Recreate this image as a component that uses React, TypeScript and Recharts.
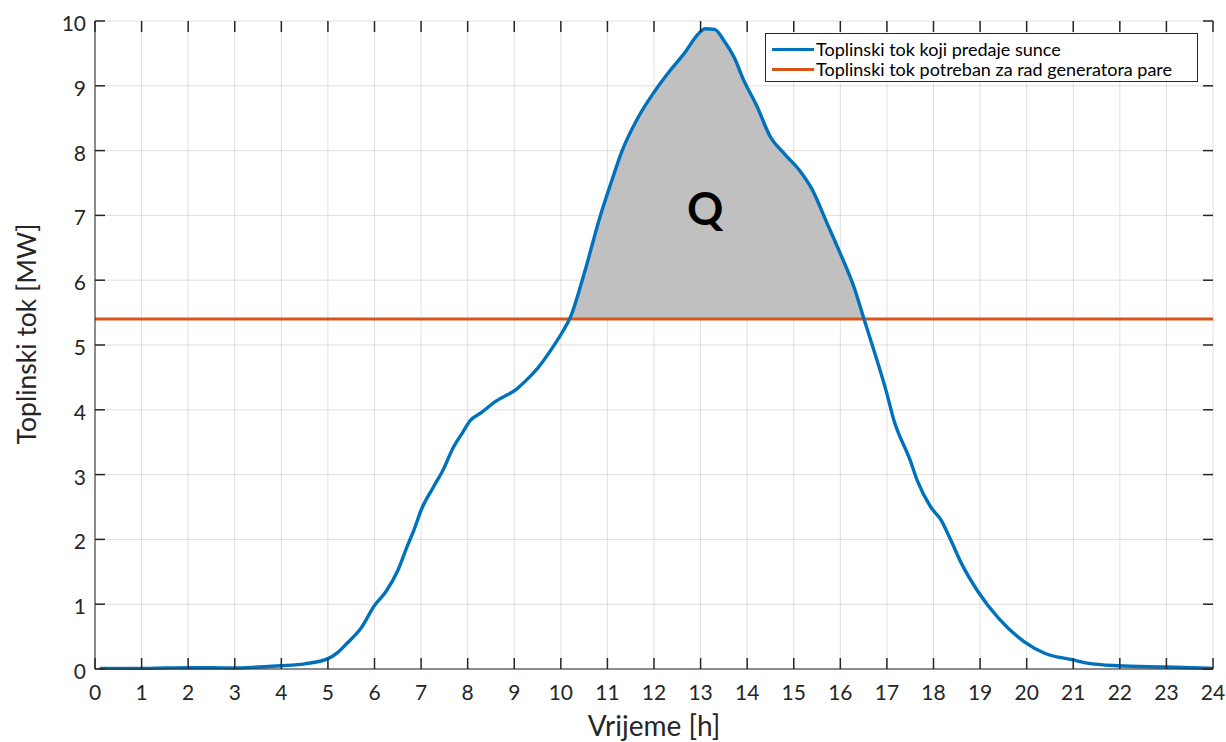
import React from 'react';
import {
  ComposedChart,
  Area,
  Line,
  XAxis,
  YAxis,
  CartesianGrid,
  ReferenceLine,
  ReferenceDot,
  Legend,
  Label,
} from 'recharts';

// hours of the day (x) and heat flow delivered by the sun in MW (y)
const hours = [
  0.1, 0.5, 1, 1.5, 2, 2.5, 3, 3.5, 4, 4.5, 5, 5.2, 5.4, 5.7, 6, 6.25, 6.5, 6.7, 6.85, 7,
  7.25, 7.45, 7.7, 7.9, 8.05, 8.3, 8.6, 9.05, 9.25, 9.5, 9.85, 10.05, 10.2, 10.5, 10.85,
  11.1, 11.3, 11.65, 12, 12.35, 12.65, 12.95, 13.1, 13.3, 13.5, 13.72, 13.93, 14.2, 14.5,
  14.8, 15.15, 15.38, 15.72, 16, 16.3, 16.5, 16.72, 16.98, 17.15, 17.5, 17.65, 17.94,
  18.16, 18.37, 18.6, 18.95, 19.4, 19.95, 20.4, 21, 21.3, 21.95, 23, 24,
];
const solarHeat = [
  0.01, 0.01, 0.01, 0.015, 0.02, 0.02, 0.015, 0.03, 0.05, 0.08, 0.16, 0.25, 0.39, 0.62,
  0.98, 1.2, 1.52, 1.89, 2.15, 2.45, 2.79, 3.04, 3.43, 3.66, 3.83, 3.96, 4.13, 4.32, 4.45,
  4.64, 4.99, 5.22, 5.42, 6.1, 7.0, 7.55, 7.97, 8.5, 8.9, 9.24, 9.5, 9.8, 9.88, 9.87, 9.7,
  9.44, 9.08, 8.7, 8.21, 7.95, 7.67, 7.42, 6.87, 6.41, 5.88, 5.42, 4.92, 4.3, 3.84, 3.22,
  2.91, 2.5, 2.3, 1.99, 1.63, 1.2, 0.78, 0.42, 0.24, 0.14, 0.09, 0.05, 0.03, 0.01,
];
// heat flow needed to run the steam generator (MW)
const requiredHeat = 5.4;

const xTicks = [0, 1, 2, 3, 4, 5, 6, 7, 8, 9, 10, 11, 12, 13, 14, 15, 16, 17, 18, 19, 20, 21, 22, 23, 24];
const yTicks = [0, 1, 2, 3, 4, 5, 6, 7, 8, 9, 10];
const xMin = 0;
const xMax = 24;
const yMin = 0;
const yMax = 10;

const seriesNames = ['Toplinski tok koji predaje sunce', 'Toplinski tok potreban za rad generatora pare'];
const xTitle = 'Vrijeme [h]';
const yTitle = 'Toplinski tok [MW]';
const qText = 'Q';
const qHour = 13.1;
const qValue = 7.1;

// inward tick mark lengths, in axis units (~11px vertical, ~10px horizontal)
const xTickLen = 0.17;
const yTickLen = 0.215;

const BLUE = '#0072BD';
const ORANGE = '#D95319';
const AXIS = '#262626';
const FONT = 'Lato, "Open Sans", sans-serif';

const data = hours.map((h, i) => ({
  h,
  sun: solarHeat[i],
  surplus: solarHeat[i] >= requiredHeat ? [requiredHeat, solarHeat[i]] : null,
}));

const axisLine = { stroke: AXIS, strokeWidth: 1 };

const BottomLabel = ({ x, y, payload }: any) => (
  <text x={x} y={y} dy="0.72em" textAnchor="middle" fill={AXIS} fontSize={21} fontFamily={FONT}>
    {payload.value}
  </text>
);

const LeftLabel = ({ x, y, payload }: any) => (
  <text x={x} y={y} dy={10} textAnchor="end" fill={AXIS} fontSize={21} fontFamily={FONT}>
    {payload.value}
  </text>
);

const XTitle = ({ viewBox }: any) => (
  <text
    x={viewBox.x + viewBox.width / 2}
    y={viewBox.y + 67}
    textAnchor="middle"
    fill={AXIS}
    fontSize={28}
    fontFamily={FONT}
  >
    {xTitle}
  </text>
);

const YTitle = ({ viewBox }: any) => {
  const cx = viewBox.x + 36;
  const cy = 334;
  return (
    <text
      x={cx}
      y={cy}
      transform={`rotate(-90 ${cx} ${cy})`}
      textAnchor="middle"
      fill={AXIS}
      fontSize={26.5}
      fontFamily={FONT}
    >
      {yTitle}
    </text>
  );
};

const LegendBox = () => (
  <div
    style={{
      border: `1px solid ${AXIS}`,
      background: '#fff',
      boxSizing: 'border-box',
      width: 433,
      height: 49,
      padding: '5px 0 0 6px',
      fontFamily: FONT,
      fontSize: 18,
      lineHeight: '20px',
      color: '#000',
    }}
  >
    {seriesNames.map((name, i) => (
      <div key={name} style={{ display: 'flex', alignItems: 'center', height: 20 }}>
        <span
          style={{
            display: 'inline-block',
            width: 42,
            height: 3,
            background: i === 0 ? BLUE : ORANGE,
            marginRight: 2,
          }}
        />
        <span style={{ whiteSpace: 'nowrap' }}>{name}</span>
      </div>
    ))}
  </div>
);

const tickStyle = { stroke: AXIS, strokeWidth: 1.5 };

export default function App() {
  return (
    <div style={{ position: 'absolute', left: 0, top: 0, width: 1226, height: 742, background: '#fff' }}>
      <ComposedChart width={1226} height={742} data={data} margin={{ top: 21, right: 13, bottom: 0, left: 0 }}>
        <CartesianGrid stroke={AXIS} strokeOpacity={0.14} strokeWidth={1} />
        <XAxis
          dataKey="h"
          type="number"
          domain={[xMin, xMax]}
          ticks={xTicks}
          interval={0}
          height={73}
          tickSize={0}
          tickMargin={16}
          tickLine={false}
          tick={<BottomLabel />}
          axisLine={axisLine}
        >
          <Label content={<XTitle />} />
        </XAxis>
        <XAxis
          xAxisId="top"
          orientation="top"
          dataKey="h"
          type="number"
          domain={[xMin, xMax]}
          ticks={xTicks}
          height={0}
          tickLine={false}
          tick={false}
          axisLine={axisLine}
        />
        <YAxis
          type="number"
          domain={[yMin, yMax]}
          ticks={yTicks}
          interval={0}
          width={95}
          tickSize={0}
          tickMargin={9}
          tickLine={false}
          tick={<LeftLabel />}
          axisLine={axisLine}
        >
          <Label content={<YTitle />} />
        </YAxis>
        <YAxis
          yAxisId="right"
          orientation="right"
          type="number"
          domain={[yMin, yMax]}
          ticks={yTicks}
          width={0}
          tickLine={false}
          tick={false}
          axisLine={axisLine}
        />
        <Area
          dataKey="surplus"
          type="monotone"
          stroke="none"
          fill="#c0c0c0"
          fillOpacity={1}
          isAnimationActive={false}
          legendType="none"
        />
        <ReferenceLine y={requiredHeat} stroke={ORANGE} strokeWidth={3} />
        <Line
          dataKey="sun"
          type="monotone"
          stroke={BLUE}
          strokeWidth={3.4}
          dot={false}
          activeDot={false}
          isAnimationActive={false}
        />
        {/* inward tick marks on all four sides of the box */}
        {xTicks.map((t) => (
          <ReferenceLine
            key={`xb${t}`}
            segment={[{ x: t, y: yMin }, { x: t, y: yMin + xTickLen }]}
            ifOverflow="visible"
            {...tickStyle}
          />
        ))}
        {xTicks.map((t) => (
          <ReferenceLine
            key={`xt${t}`}
            segment={[{ x: t, y: yMax }, { x: t, y: yMax - xTickLen }]}
            ifOverflow="visible"
            {...tickStyle}
          />
        ))}
        {yTicks.map((t) => (
          <ReferenceLine
            key={`yl${t}`}
            segment={[{ x: xMin, y: t }, { x: xMin + yTickLen, y: t }]}
            ifOverflow="visible"
            {...tickStyle}
          />
        ))}
        {yTicks.map((t) => (
          <ReferenceLine
            key={`yr${t}`}
            segment={[{ x: xMax, y: t }, { x: xMax - yTickLen, y: t }]}
            ifOverflow="visible"
            {...tickStyle}
          />
        ))}
        <ReferenceDot
          x={qHour}
          y={qValue}
          r={0}
          fill="none"
          stroke="none"
          label={{ value: qText, position: 'center', fontSize: 45, fontWeight: 700, fill: '#000', fontFamily: FONT }}
        />
        <Legend
          layout="vertical"
          align="center"
          verticalAlign="middle"
          content={<LegendBox />}
          wrapperStyle={{ position: 'absolute', left: 765, top: 33, width: 433, height: 49 }}
        />
      </ComposedChart>
    </div>
  );
}
